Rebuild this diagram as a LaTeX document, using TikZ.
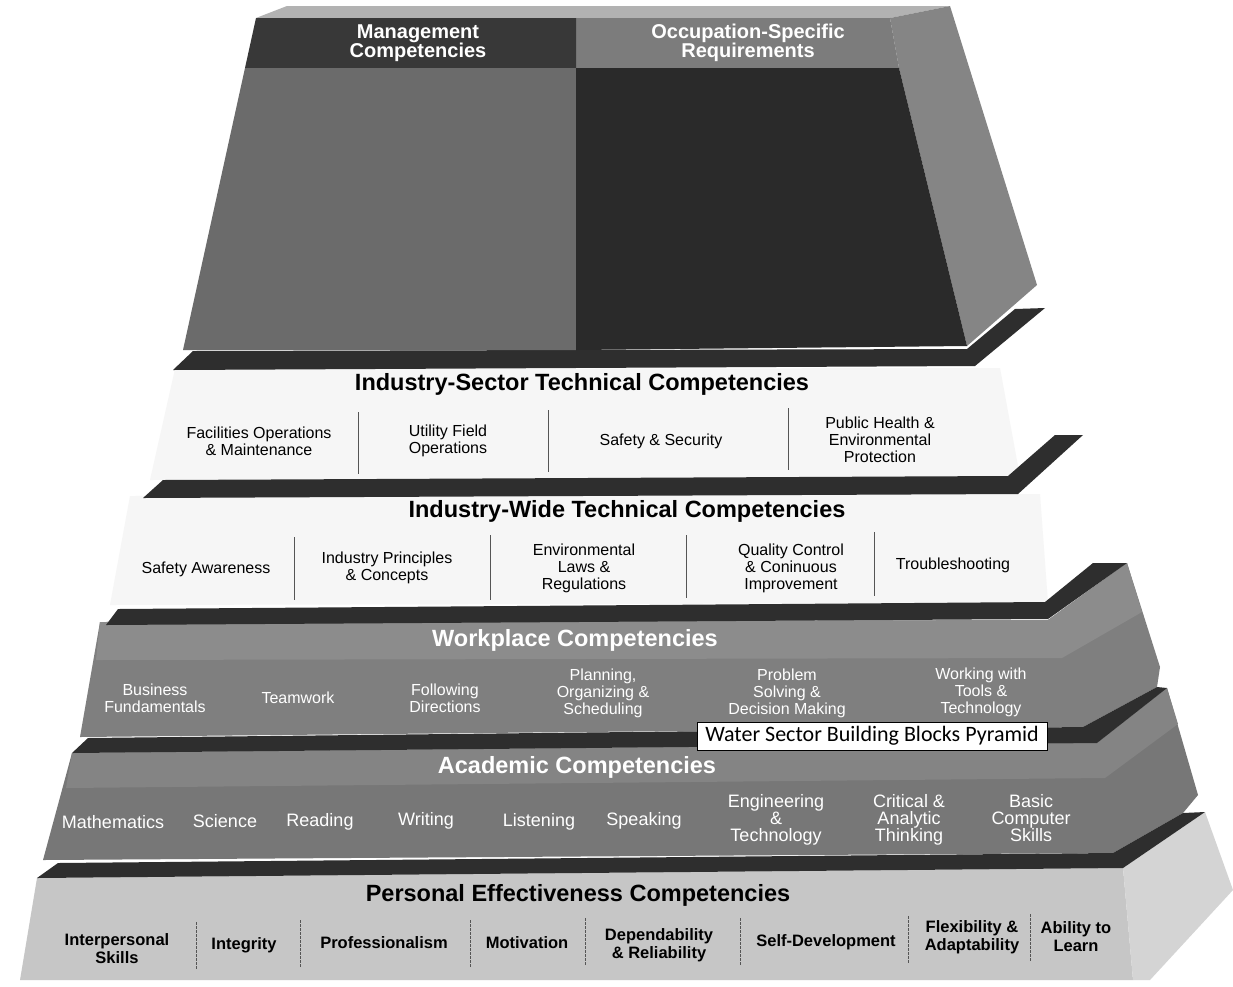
\documentclass[tikz,border=0pt]{standalone}
\usepackage{fontspec}
\setmainfont{Liberation Sans}
\newfontfamily\boxfont{Carlito}
\definecolor{shelfc}{HTML}{2E2E2E}
\definecolor{topc}{HTML}{B2B2B2}
\definecolor{mgmtc}{HTML}{383838}
\definecolor{occc}{HTML}{7C7C7C}
\definecolor{leftlowc}{HTML}{6B6B6B}
\definecolor{rightlowc}{HTML}{2A2A2A}
\definecolor{sidec}{HTML}{858585}
\definecolor{whitec}{HTML}{F6F6F6}
\definecolor{workc}{HTML}{7F7F7F}
\definecolor{workbandc}{HTML}{8C8C8C}
\definecolor{acadc}{HTML}{777777}
\definecolor{acadbandc}{HTML}{848484}
\definecolor{persc}{HTML}{C6C6C6}
\definecolor{perssidec}{HTML}{D4D4D4}
\definecolor{divc}{HTML}{555555}
\begin{document}
\begin{tikzpicture}[x=1pt,y=-1pt,
  title/.style={font=\fontsize{23.5}{25}\selectfont\bfseries, inner sep=0pt},
  wtitle/.style={title, text=white},
  item/.style={font=\fontsize{16}{17}\selectfont, align=center, inner sep=0pt},
  witem/.style={font=\fontsize{16}{17}\selectfont, align=center, inner sep=0pt, text=white},
  aitem/.style={font=\fontsize{18}{17}\selectfont, align=center, inner sep=0pt, text=white},
  pitem/.style={font=\fontsize{16.5}{18}\selectfont\bfseries, align=center, inner sep=0pt},
  hitem/.style={font=\fontsize{20}{19}\selectfont\bfseries, align=center, inner sep=0pt, text=white},
  divline/.style={draw=divc, line width=0.8pt},
  pdivline/.style={draw=divc, line width=0.8pt, dash pattern=on 3pt off 1pt},
  shelf/.style={fill=shelfc}]
\useasboundingbox (0,0) rectangle (1233,986);
\fill[white] (0,0) rectangle (1233,986);

% ---- white tiers
\fill[whitec] (175,369) -- (1000,368) -- (1020,477) -- (150,480) -- cycle;
\fill[whitec] (130,496) -- (1040,494) -- (1048,603) -- (110,605) -- cycle;

% ---- Workplace tier
\fill[workc] (100,622) -- (1048,620) -- (1127,563) -- (1160,667) -- (1157,687) -- (1083,727) -- (80,737) -- cycle;
\fill[workbandc] (100,622) -- (1048,620) -- (1127,563) -- (1142,612) -- (1062,658) -- (96,660) -- cycle;

% ---- Academic tier
\fill[acadc] (72,753) -- (1097,743) -- (1167,688) -- (1198,795) -- (1183,813) -- (1113,853) -- (43,860) -- cycle;
\fill[acadbandc] (72,753) -- (1097,743) -- (1167,688) -- (1178,724) -- (1105,778) -- (66,788) -- cycle;

% ---- Personal tier
\fill[persc] (37,878) -- (1123,868) -- (1133,980) -- (20,980) -- cycle;
\fill[perssidec] (1123,868) -- (1205,812) -- (1233,890) -- (1150,980) -- (1133,980) -- cycle;

% ---- shelves
\fill[shelf] (173,370) -- (193,351) -- (967,349) -- (1015,309) -- (1045,308) -- (975,366) -- cycle;
\fill[shelf] (143,498) -- (163,480) -- (1008,476) -- (1055,435) -- (1083,435) -- (1018,494) -- cycle;
\fill[shelf] (106,625) -- (118,609) -- (1045,602) -- (1093,563) -- (1127,563) -- (1048,619) -- cycle;
\fill[shelf] (72,753) -- (88,738) -- (1083,727) -- (1157,687) -- (1167,688) -- (1097,743) -- cycle;
\fill[shelf] (37,878) -- (58,863) -- (1113,853) -- (1183,813) -- (1205,812) -- (1123,868) -- cycle;

% ---- top block
\fill[topc] (256,18) -- (287,6) -- (950,6) -- (890,18) -- cycle;
\fill[sidec] (890,18) -- (950,6) -- (1037,285) -- (967,346) -- (899,68) -- cycle;
\fill[occc] (576,18) -- (890,18) -- (899,68) -- (576,68) -- cycle;
\fill[mgmtc] (256,18) -- (576,18) -- (576,68) -- (245,68) -- cycle;
\fill[leftlowc] (245,68) -- (576,68) -- (576,350) -- (183,350) -- cycle;
\fill[rightlowc] (576,68) -- (899,68) -- (967,346) -- (576,350) -- cycle;

\node[hitem] (mgmt) at (418,43) {Management\\Competencies};
\node[hitem] (occ) at (748,43) {Occupation-Specific\\Requirements};

% ---- Industry-Sector
\node[title] (ist) at (582,384) {Industry-Sector Technical Competencies};
\node[item] (is1) at (259,441) {Facilities Operations\\\& Maintenance};
\node[item] (is2) at (448,441) {Utility Field\\Operations};
\node[item] (is3) at (661,441) {Safety \& Security};
\node[item] (is4) at (880,440) {Public Health \&\\Environmental\\Protection};
\draw[divline] (358,412) -- (358,474);
\draw[divline] (548,410) -- (548,472);
\draw[divline] (788,408) -- (788,470);

% ---- Industry-Wide
\node[title] (iwt) at (627,511) {Industry-Wide Technical Competencies};
\node[item] (iw1) at (206,569) {Safety Awareness};
\node[item] (iw2) at (387,568) {Industry Principles\\\& Concepts};
\node[item] (iw3) at (584,568) {Environmental\\Laws \&\\Regulations};
\node[item] (iw4) at (791,568) {Quality Control\\\& Coninuous\\Improvement};
\node[item] (iw5) at (953,565) {Troubleshooting};
\draw[divline] (294,537) -- (294,600);
\draw[divline] (490,535) -- (490,600);
\draw[divline] (686,535) -- (686,598);
\draw[divline] (874,532) -- (874,596);

% ---- Workplace
\node[wtitle] (wpt) at (575,640) {Workplace Competencies};
\node[witem] (wp1) at (155,698) {Business\\Fundamentals};
\node[witem] (wp2) at (298,698) {Teamwork};
\node[witem] (wp3) at (445,698) {Following\\Directions};
\node[witem] (wp4) at (603,693) {Planning,\\Organizing \&\\Scheduling};
\node[witem] (wp5) at (787,693) {Problem\\Solving \&\\Decision Making};
\node[witem] (wp6) at (981,692) {Working with\\Tools \&\\Technology};

% ---- Academic
\node[wtitle] (act) at (577,767) {Academic Competencies};
\node[aitem] (ac1) at (113,822) {Mathematics};
\node[aitem] (ac2) at (225,821) {Science};
\node[aitem] (ac3) at (320,822) {Reading};
\node[aitem] (ac4) at (426,821) {Writing};
\node[aitem] (ac5) at (539,822) {Listening};
\node[aitem] (ac6) at (644,821) {Speaking};
\node[aitem] (ac7) at (776,820) {Engineering\\\&\\Technology};
\node[aitem] (ac8) at (909,820) {Critical \&\\Analytic\\Thinking};
\node[aitem] (ac9) at (1031,818) {Basic\\Computer\\Skills};

% ---- Personal Effectiveness
\node[title] (pet) at (578,895) {Personal Effectiveness Competencies};
\node[pitem] (pe1) at (117,949) {Interpersonal\\Skills};
\node[pitem] (pe2) at (244,945) {Integrity};
\node[pitem] (pe3) at (384,943) {Professionalism};
\node[pitem] (pe4) at (527,943) {Motivation};
\node[pitem] (pe5) at (659,945) {Dependability\\\& Reliability};
\node[pitem] (pe6) at (826,942) {Self-Development};
\node[pitem] (pe7) at (972,937) {Flexibility \&\\Adaptability};
\node[pitem] (pe8) at (1076,937) {Ability to\\Learn};
\draw[pdivline] (196,922) -- (196,970);
\draw[pdivline] (300,920) -- (300,968);
\draw[pdivline] (470,920) -- (470,968);
\draw[pdivline] (585,918) -- (585,966);
\draw[pdivline] (740,918) -- (740,966);
\draw[pdivline] (908,916) -- (908,964);
\draw[pdivline] (1030,914) -- (1030,962);

% ---- caption box
\node[draw=black, line width=0.8pt, fill=white, minimum width=350pt, minimum height=28pt, inner sep=0pt,
      font=\boxfont\fontsize{22}{22}\selectfont] (cap) at (872,736) {Water Sector Building Blocks Pyramid};
\end{tikzpicture}
\end{document}
